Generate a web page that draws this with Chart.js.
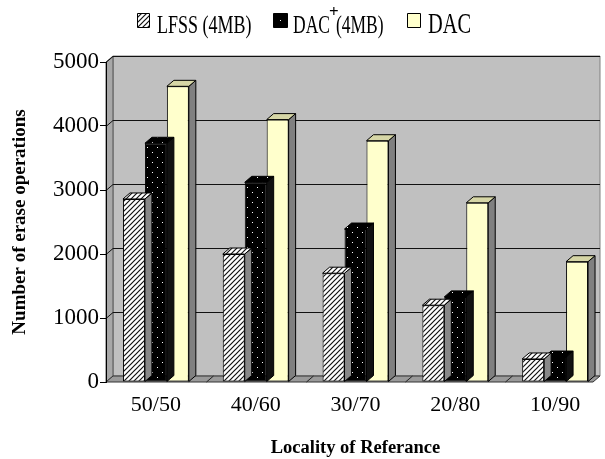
<!DOCTYPE html>
<html>
<head>
<meta charset="utf-8">
<script src="https://cdn.jsdelivr.net/npm/chart.js@4/dist/chart.umd.min.js"></script>
<style>
  html, body { margin: 0; padding: 0; background: #fff; }
  #wrap { width: 605px; height: 459px; position: relative; }
</style>
</head>
<body>
<div id="wrap"><canvas id="c"></canvas></div>
<script>
// Erase operations per locality-of-reference setting
const categories = ['50/50', '40/60', '30/70', '20/80', '10/90'];
const lfss    = [2860, 2000, 1700, 1200, 360];
const dacPlus = [3730, 3120, 2390, 1330, 390];
const dac     = [4620, 4100, 3770, 2800, 1880];
const seriesNames = ['LFSS (4MB)', 'DAC+(4MB)', 'DAC'];
const yTickValues = [0, 1000, 2000, 3000, 4000, 5000];

const SERIF = '"Liberation Serif", "Times New Roman", serif';
const DEPTH = { x: 7, y: -6 };     // pseudo-3D offset of bar tops, sides and walls
const WALL_RIGHT = 600;

const canvas = document.getElementById('c');
const ctx = canvas.getContext('2d');

// fill patterns: diagonal hatch and dotted black
function makeHatch() {
  const t = document.createElement('canvas');
  t.width = 5; t.height = 5;
  const g = t.getContext('2d');
  g.fillStyle = '#fff'; g.fillRect(0, 0, 5, 5);
  g.strokeStyle = '#111'; g.lineWidth = 1.2;
  g.beginPath();
  g.moveTo(0, 5); g.lineTo(5, 0);
  g.moveTo(-1, 1); g.lineTo(1, -1);
  g.moveTo(4, 6); g.lineTo(6, 4);
  g.stroke();
  return ctx.createPattern(t, 'repeat');
}
function makeDots() {
  const t = document.createElement('canvas');
  t.width = 10; t.height = 10;
  const g = t.getContext('2d');
  g.fillStyle = '#000'; g.fillRect(0, 0, 10, 10);
  g.fillStyle = '#fff';
  g.fillRect(2, 2, 1, 1);
  g.fillRect(7, 7, 1, 1);
  return ctx.createPattern(t, 'repeat');
}
const hatch = makeHatch();
const dots = makeDots();

const faceFill = [hatch, dots, '#ffffcc'];
const capFill  = [hatch, dots, '#d6d6a6'];
const sideFill = ['#888', '#111', '#808080'];

function poly(c, pts, fill, stroke) {
  c.beginPath();
  c.moveTo(pts[0][0], pts[0][1]);
  for (let i = 1; i < pts.length; i++) c.lineTo(pts[i][0], pts[i][1]);
  c.closePath();
  if (fill) { c.fillStyle = fill; c.fill(); }
  if (stroke) { c.strokeStyle = stroke; c.lineWidth = 1; c.stroke(); }
}

// back wall, side wall, floor and wall gridlines
const wallPlugin = {
  id: 'walls',
  beforeDraw(chart) {
    const c = chart.ctx, a = chart.chartArea, ys = chart.scales.y;
    const L = a.left, T = a.top, B = a.bottom;
    const dx = DEPTH.x, dy = DEPTH.y;
    c.save();
    // back wall
    poly(c, [[L + dx, T + dy], [WALL_RIGHT, T + dy], [WALL_RIGHT, B + dy], [L + dx, B + dy]], '#c0c0c0', '#808080');
    // left side wall
    poly(c, [[L, T], [L + dx, T + dy], [L + dx, B + dy], [L, B]], '#a8a8a8', '#555');
    // gridlines across side wall and back wall
    c.strokeStyle = '#111';
    c.lineWidth = 1;
    yTickValues.forEach(v => {
      if (v === 0) return;
      const yy = Math.round(ys.getPixelForValue(v)) + 0.5;
      c.beginPath();
      c.moveTo(L, yy);
      c.lineTo(L + dx, yy + dy);
      c.lineTo(WALL_RIGHT, yy + dy);
      c.stroke();
    });
    // floor
    poly(c, [[L, B], [L + dx, B + dy], [WALL_RIGHT, B + dy], [WALL_RIGHT - dx, B]], '#9a9a9a', '#333');
    // category dividers on the floor
    const xs = chart.scales.x;
    c.strokeStyle = '#222';
    for (let i = 1; i < categories.length; i++) {
      const xx = Math.round((xs.getPixelForValue(i - 1) + xs.getPixelForValue(i)) / 2) + 0.5;
      c.beginPath();
      c.moveTo(xx, B);
      c.lineTo(xx + dx, B + dy);
      c.stroke();
    }
    c.restore();
  }
};

// top caps and right-hand side faces of each column
const bar3dPlugin = {
  id: 'bar3d',
  beforeDatasetDraw(chart, args) {
    const c = chart.ctx;
    const meta = chart.getDatasetMeta(args.index);
    const dx = DEPTH.x, dy = DEPTH.y;
    c.save();
    meta.data.forEach(el => {
      const p = el.getProps(['x', 'y', 'base', 'width'], true);
      const x0 = p.x - p.width / 2, x1 = p.x + p.width / 2;
      poly(c, [[x1, p.y], [x1 + dx, p.y + dy], [x1 + dx, p.base + dy], [x1, p.base]], sideFill[args.index], '#000');
      poly(c, [[x0, p.y], [x0 + dx, p.y + dy], [x1 + dx, p.y + dy], [x1, p.y]], capFill[args.index], '#000');
    });
    c.restore();
  }
};

// legend row along the top
const legendPlugin = {
  id: 'topLegend',
  afterDraw(chart) {
    const c = chart.ctx;
    c.save();
    c.textBaseline = 'alphabetic';
    function squeezed(text, x, base, size, sx, weight) {
      c.save();
      c.fillStyle = '#000';
      c.translate(x, base);
      c.scale(sx, 1);
      c.font = (weight || '') + ' ' + size + 'px ' + SERIF;
      c.fillText(text, 0, 0);
      const w = c.measureText(text).width * sx;
      c.restore();
      return w;
    }
    // LFSS (4MB)
    poly(c, [[137.5, 13.5], [149.5, 13.5], [149.5, 27.5], [137.5, 27.5]], hatch, '#000');
    squeezed(seriesNames[0], 157, 33, 25, 0.72);
    // DAC+(4MB)
    poly(c, [[273.5, 13.5], [287.5, 13.5], [287.5, 27.5], [273.5, 27.5]], '#000', '#000');
    c.fillStyle = '#fff'; c.fillRect(280, 20, 1, 1);
    const parts = seriesNames[1].split('+');
    const w = squeezed(parts[0], 293, 33, 25, 0.70);
    squeezed('+', 293 + w - 1, 17, 17, 1, 'bold');
    squeezed(parts[1], 293 + w + 6, 33, 25, 0.70);
    // DAC
    poly(c, [[407.5, 13.5], [420.5, 13.5], [420.5, 27.5], [407.5, 27.5]], '#ffffcc', '#000');
    squeezed(seriesNames[2], 428, 33, 30, 0.68);
    c.restore();
  }
};

new Chart(canvas, {
  type: 'bar',
  data: {
    labels: categories,
    datasets: [
      { label: seriesNames[0], data: lfss },
      { label: seriesNames[1], data: dacPlus },
      { label: seriesNames[2], data: dac }
    ].map((d, i) => Object.assign(d, {
      backgroundColor: faceFill[i],
      borderColor: '#000',
      borderWidth: 1,
      borderSkipped: false,
      categoryPercentage: 0.66,
      barPercentage: 1.0
    }))
  },
  options: {
    responsive: true,
    maintainAspectRatio: false,
    animation: false,
    events: [],
    layout: { padding: { top: 62, left: 0, right: 0, bottom: 0 } },
    plugins: {
      legend: { display: false },
      tooltip: { enabled: false },
      title: { display: false }
    },
    scales: {
      x: {
        grid: { display: false },
        border: { display: false },
        ticks: {
          color: '#000',
          padding: 2,
          maxRotation: 0,
          font: { family: SERIF, size: 22 }
        },
        title: {
          display: true,
          text: 'Locality of Referance',
          color: '#000',
          padding: { top: 0, bottom: 0 },
          font: { family: SERIF, size: 18.5, weight: 'bold' }
        },
        afterFit(scale) { scale.height = 77; }
      },
      y: {
        min: 0,
        max: 5000,
        afterBuildTicks(scale) { scale.ticks = yTickValues.map(v => ({ value: v })); },
        grid: {
          drawOnChartArea: false,
          drawTicks: true,
          tickLength: 6,
          color: '#000'
        },
        border: { display: true, color: '#000', width: 1 },
        ticks: {
          color: '#000',
          padding: 1,
          font: { family: SERIF, size: 23 },
          callback: v => String(v)
        },
        title: {
          display: true,
          text: 'Number of erase operations',
          color: '#000',
          padding: { top: 9, bottom: 0 },
          font: { family: SERIF, size: 19, weight: 'bold' }
        },
        afterFit(scale) { scale.width = 106; }
      }
    }
  },
  plugins: [wallPlugin, bar3dPlugin, legendPlugin]
});
</script>
</body>
</html>
